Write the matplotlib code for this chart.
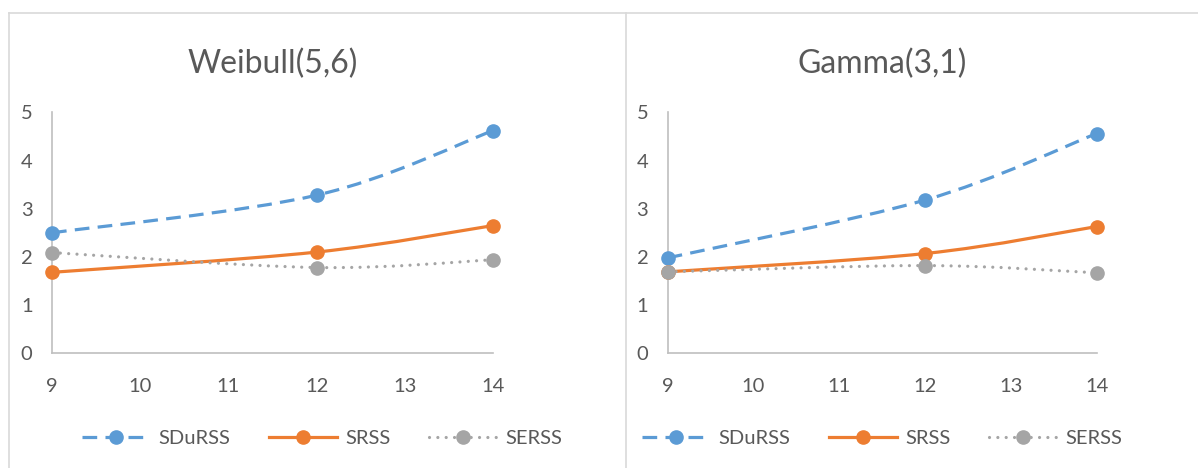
"""Two Excel-style smoothed line charts: Weibull(5,6) and Gamma(3,1)."""

import matplotlib.pyplot as plt
from matplotlib.lines import Line2D
from matplotlib.patches import PathPatch
from matplotlib.path import Path

plt.rcParams["font.family"] = ["Lato", "DejaVu Sans"]

sample_sizes = [9, 12, 14]
series_names = ["SDuRSS", "SRSS", "SERSS"]

weibull_sdurss = [2.50, 3.28, 4.62]
weibull_srss = [1.68, 2.10, 2.65]
weibull_serss = [2.09, 1.78, 1.94]

gamma_sdurss = [1.98, 3.18, 4.56]
gamma_srss = [1.69, 2.07, 2.63]
gamma_serss = [1.69, 1.82, 1.67]

x_ticks = [9, 10, 11, 12, 13, 14]
y_ticks = [0, 1, 2, 3, 4, 5]

COLORS = {"SDuRSS": "#5B9BD5", "SRSS": "#ED7D31", "SERSS": "#A5A5A5"}
LW = 2.3
STYLES = {
    "SDuRSS": (0, (4.6, 2.6)),
    "SRSS": "-",
    "SERSS": (0, (0.01, 2.6)),
}
CAPS = {"SDuRSS": "butt", "SRSS": "round", "SERSS": "round"}
TEXT = "#595959"
W, H = 1198, 468


def smooth_path(xs, ys):
    """Catmull-Rom style bezier path, like Excel's smoothed line."""
    pts = list(zip(xs, ys))
    ext = [pts[0]] + pts + [pts[-1]]
    verts = [pts[0]]
    codes = [Path.MOVETO]
    for i in range(1, len(ext) - 2):
        p0, p1, p2, p3 = ext[i - 1], ext[i], ext[i + 1], ext[i + 2]
        c1 = (p1[0] + (p2[0] - p0[0]) / 6, p1[1] + (p2[1] - p0[1]) / 6)
        c2 = (p2[0] - (p3[0] - p1[0]) / 6, p2[1] - (p3[1] - p1[1]) / 6)
        verts += [c1, c2, p2]
        codes += [Path.CURVE4] * 3
    return Path(verts, codes)


def draw_panel(ax, title, data, legend_cx):
    for name, ys in zip(series_names, data):
        patch = PathPatch(
            smooth_path(sample_sizes, ys), fill=False, edgecolor=COLORS[name],
            linewidth=LW, linestyle=STYLES[name], capstyle=CAPS[name], clip_on=False,
        )
        ax.add_patch(patch)
        ax.plot(sample_sizes, ys, "o", color=COLORS[name], markersize=9.5,
                linestyle="none", clip_on=False, zorder=3)

    ax.set_xlim(9, 14)
    ax.set_ylim(0, 5)
    ax.set_xticks(x_ticks)
    ax.set_yticks(y_ticks)
    ax.tick_params(length=0, labelsize=14.5, labelcolor=TEXT)
    ax.tick_params(axis="y", pad=14)
    ax.tick_params(axis="x", pad=18)
    for side in ("top", "right"):
        ax.spines[side].set_visible(False)
    for side in ("left", "bottom"):
        ax.spines[side].set_color("#BFBFBF")
        ax.spines[side].set_linewidth(1.2)
    ax.set_title(title, fontsize=23, color=TEXT, pad=28)

    handles = [
        Line2D([], [], color=COLORS[n], linewidth=LW, linestyle=STYLES[n],
               dash_capstyle=CAPS[n], marker="o", markersize=9.5)
        for n in series_names
    ]
    fig = ax.figure
    ax.legend(handles, series_names, loc="center", bbox_to_anchor=(legend_cx / W, 1 - 438 / H),
              bbox_transform=fig.transFigure, ncol=3, frameon=False, fontsize=14.5,
              labelcolor=TEXT, handlelength=3.4, handletextpad=0.4, columnspacing=1.9)


fig = plt.figure(figsize=(W / 100, H / 100), dpi=100)

ax1 = fig.add_axes([52 / W, 1 - 353.3 / H, 441 / W, 241 / H])
ax2 = fig.add_axes([667.7 / W, 1 - 353.3 / H, 429 / W, 241 / H])

draw_panel(ax1, "Weibull(5,6)", [weibull_sdurss, weibull_srss, weibull_serss], 322)
draw_panel(ax2, "Gamma(3,1)", [gamma_sdurss, gamma_srss, gamma_serss], 882)

# chart-area borders
border = dict(color="#D9D9D9", linewidth=1.2, transform=fig.transFigure)
fig.add_artist(Line2D([8.5 / W, 1], [1 - 12.7 / H] * 2, **border))
fig.add_artist(Line2D([8.5 / W] * 2, [0, 1 - 12.7 / H], **border))
fig.add_artist(Line2D([625.5 / W] * 2, [0, 1 - 12.7 / H], **border))

fig.savefig("out.png", dpi=100)
